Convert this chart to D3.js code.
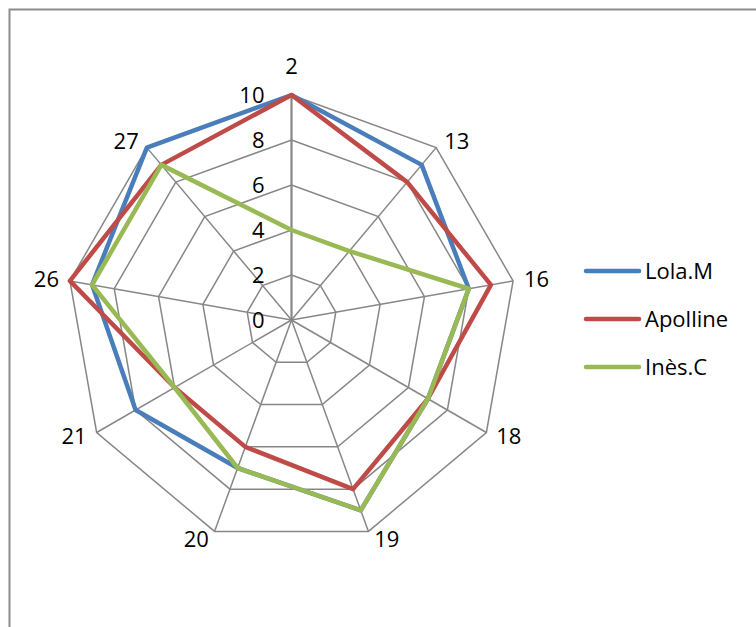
<!DOCTYPE html>
<html>
<head>
<meta charset="utf-8">
<script src="https://cdn.jsdelivr.net/npm/d3@7"></script>
<style>
  html, body { margin: 0; padding: 0; background: #fff; }
  svg { display: block; }
  text { font-family: "Open Sans", sans-serif; fill: #000; }
</style>
</head>
<body>
<svg id="chart" width="756" height="627"></svg>
<script>
// ---- data ----
const categories = ["2", "13", "16", "18", "19", "20", "21", "26", "27"];
const seriesNames = ["Lola.M", "Apolline", "Inès.C"];
const lolaValues = [10, 9, 8, 7, 9, 7, 8, 9, 10];
const apollineValues = [10, 8, 9, 7, 8, 6, 6, 10, 9];
const inesValues = [4, 4, 8, 7, 9, 7, 6, 9, 9];
const seriesColors = ["#4A7EBB", "#BE4B48", "#98B954"];
const tickValues = [0, 2, 4, 6, 8, 10];

const series = [lolaValues, apollineValues, inesValues].map((v, i) => ({
  name: seriesNames[i], values: v, color: seriesColors[i]
}));

// ---- layout ----
const svg = d3.select("#chart");
const cx = 291.5, cy = 320, R = 225;
const fontSize = 22;

// frame (extends beyond the right and bottom edges)
svg.append("rect")
  .attr("x", 9.5).attr("y", 9.5)
  .attr("width", 800).attr("height", 700)
  .attr("fill", "none").attr("stroke", "#8c8c8c").attr("stroke-width", 2);

const angle = d3.scalePoint().domain(categories).range([0, 2 * Math.PI * (categories.length - 1) / categories.length]);
const r = d3.scaleLinear().domain([0, 10]).range([0, R]);

const pt = (cat, v) => {
  const a = angle(cat);
  return [cx + r(v) * Math.sin(a), cy - r(v) * Math.cos(a)];
};

const g = svg.append("g");

// grid rings
tickValues.filter(t => t > 0).forEach(t => {
  const pts = categories.map(c => pt(c, t));
  g.append("path")
    .attr("d", d3.line()(pts) + "Z")
    .attr("fill", "none").attr("stroke", "#878787").attr("stroke-width", 1.5);
});

// spokes
categories.forEach((c, i) => {
  const [x, y] = pt(c, 10);
  g.append("line")
    .attr("x1", cx).attr("y1", cy).attr("x2", x).attr("y2", y)
    .attr("stroke", "#878787").attr("stroke-width", i === 0 ? 2.2 : 1.5);
});

// value axis labels
g.selectAll("text.tick").data(tickValues).join("text")
  .attr("class", "tick")
  .attr("x", cx - 27)
  .attr("y", d => cy - r(d))
  .attr("dy", "0.35em")
  .attr("text-anchor", "end")
  .attr("font-size", fontSize)
  .text(d => d);

// category labels
categories.forEach(c => {
  const a = angle(c);
  const dx = Math.sin(a), dy = -Math.cos(a);
  const [x, y] = pt(c, 10);
  let anchor = "middle", lx = x, ly = y + dy * 8;
  if (Math.abs(dx) < 0.1) { ly = y - 29; }
  else {
    const gap = 3 + 8 * Math.abs(dx);
    anchor = dx > 0 ? "start" : "end";
    lx = x + Math.sign(dx) * gap;
  }
  g.append("text")
    .attr("x", lx).attr("y", ly).attr("dy", "0.35em")
    .attr("text-anchor", anchor)
    .attr("font-size", fontSize)
    .text(c);
});

// series lines
const line = d3.line();
series.forEach(s => {
  const pts = categories.map((c, i) => pt(c, s.values[i]));
  g.append("path")
    .attr("d", line(pts) + "Z")
    .attr("fill", "none")
    .attr("stroke", s.color)
    .attr("stroke-width", 4.5)
    .attr("stroke-linejoin", "round");
});

// legend
const legendY = d3.scalePoint().domain(seriesNames).range([271, 367]);
const lg = svg.append("g");
series.forEach(s => {
  const y = legendY(s.name);
  lg.append("line")
    .attr("x1", 586).attr("x2", 639).attr("y1", y).attr("y2", y)
    .attr("stroke", s.color).attr("stroke-width", 4.5).attr("stroke-linecap", "round");
  lg.append("text")
    .attr("x", 645).attr("y", y).attr("dy", "0.35em")
    .attr("font-size", fontSize)
    .text(s.name);
});
</script>
</body>
</html>
